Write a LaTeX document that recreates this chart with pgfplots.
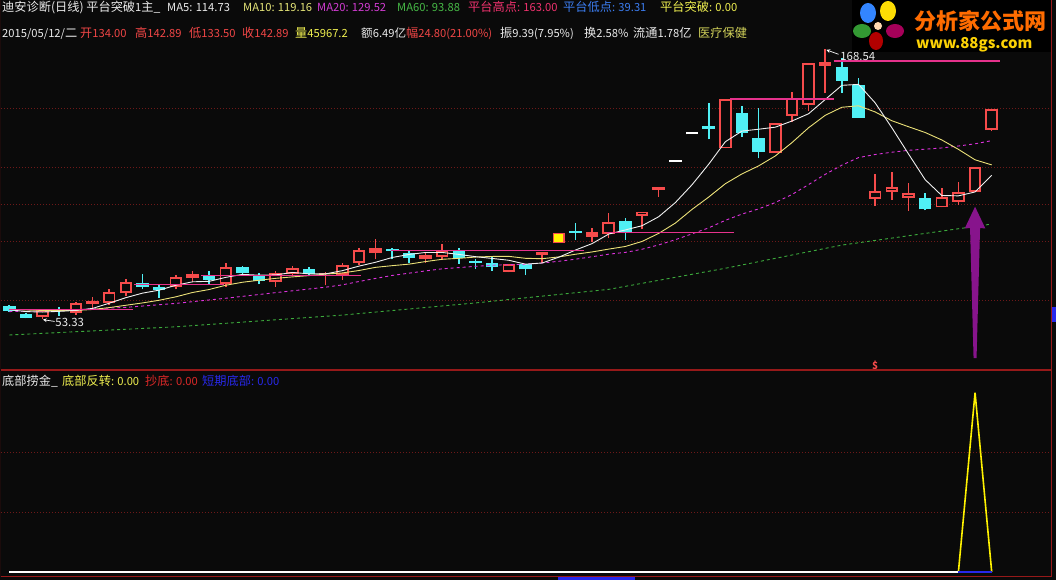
\documentclass[border=0pt]{standalone}
\usepackage{pgfplots}
\pgfplotsset{compat=1.18}
\usepackage{pgfplotstable}
\usepackage{fontspec}
\setmainfont{Noto Sans CJK SC}
\newfontfamily\cjk{Noto Sans CJK SC}
\definecolor{bg}{RGB}{10,10,10}
\definecolor{gridred}{RGB}{110,25,25}
\definecolor{border}{RGB}{150,25,25}
\definecolor{upred}{RGB}{245,75,75}
\definecolor{dncyan}{RGB}{80,240,245}
\definecolor{ma5}{RGB}{240,240,240}
\definecolor{ma10}{RGB}{235,225,120}
\definecolor{ma20}{RGB}{220,50,220}
\definecolor{ma60}{RGB}{60,170,60}
\definecolor{plat}{RGB}{230,50,140}
\definecolor{arrowp}{RGB}{135,20,140}
\definecolor{tw}{RGB}{235,235,235}
\definecolor{tma10}{RGB}{230,230,120}
\definecolor{tma20}{RGB}{210,60,210}
\definecolor{tma60}{RGB}{70,185,70}
\definecolor{tpink}{RGB}{240,50,110}
\definecolor{tblue}{RGB}{60,125,240}
\definecolor{tyel}{RGB}{240,240,80}
\definecolor{tred}{RGB}{240,70,70}
\definecolor{tind}{RGB}{210,210,90}
\definecolor{tdred}{RGB}{220,40,40}
\definecolor{tdblue}{RGB}{40,40,235}

\pgfplotstableread{
i o h l c
2 54.05 57.7 53.33 57.2
4 56.0 60.5 55.2 60.0
6 60.3 66.0 59.3 65.0
7 64.3 70.4 63.3 69.0
10 66.9 72.2 66.0 71.4
13 68.3 77.1 67.1 75.4
16 69.0 73.9 67.1 73.1
17 72.4 75.8 72.0 75.2
20 72.1 77.1 70.0 76.4
21 77.1 83.5 76.5 82.8
26 79.7 85.2 78.5 82.8
30 73.5 77.0 73.3 76.8
36 89.6 98.5 87.8 94.9
38 97.3 99.2 91.6 99.2
43 126.2 147.3 126.2 147.3
46 124.1 137.2 124.1 137.2
47 140.0 150.4 137.6 147.6
48 144.8 162.8 142.2 162.8
52 104.8 115.3 101.6 108.1
53 107.7 116.2 104.2 109.8
54 105.1 111.3 99.6 107.0
56 101.0 109.4 101.0 105.3
57 103.4 112.0 102.0 107.4
58 107.7 118.09 107.7 118.09
59 134.0 142.89 133.5 142.89
}\redhollow

\pgfplotstableread{
i o h l c
5 59.7 62.9 57.9 61.0
11 70.7 73.9 69.0 72.4
19 72.4 73.3 67.8 73.0
22 81.6 87.4 78.8 83.5
25 78.8 81.8 77.4 80.7
32 80.6 82.1 77.1 81.8
35 88.5 92.1 86.3 90.6
39 108.4 109.8 105.6 109.8
49 161.6 168.54 149.7 163.0
}\redfilled

\pgfplotstableread{
i o h l c
0 58.9 59.3 56.4 56.75
1 55.5 55.9 53.6 53.9
3 57.6 58.5 54.6 56.7
8 68.6 72.6 66.0 66.9
9 66.8 68.3 62.2 65.9
12 71.8 73.8 67.8 70.0
14 75.4 76.0 72.3 72.8
15 71.7 73.1 68.1 69.6
18 74.6 75.6 71.9 72.4
23 83.1 83.5 78.8 82.4
24 81.6 82.8 77.4 79.2
27 82.4 83.5 76.9 79.3
28 78.2 78.8 74.6 77.3
29 77.4 79.7 73.9 75.4
31 76.8 77.0 72.1 74.5
34 91.0 94.2 87.1 90.1
37 95.3 96.3 87.1 90.6
42 135.8 145.5 130.1 134.4
44 141.2 144.3 131.2 132.6
45 130.5 143.3 121.9 124.8
50 160.8 164.7 150.0 155.1
51 153.3 156.1 139.3 139.3
55 104.9 107.0 99.7 100.2
}\cyandown

\pgfplotstableread{
i o h l c
33 85.6 90.2 85.6 90.2
}\yellowc

\pgfplotstableread{
i o h l c
40 120.35 121.25 120.35 121.25
41 132.15 133.05 132.15 133.05
}\whitec

\pgfplotsset{
  eb/.style 2 args={draw=none, forget plot,
    error bars/.cd, y dir=plus, y explicit, error mark=none,
    error bar style={draw=#1, solid, line width=#2}},
}

\newcommand\hz{\fontsize{12.2}{14}\selectfont}
\newcommand\hl[1]{{\fontsize{11.2}{14}\selectfont #1}}

\begin{document}
\begin{tikzpicture}[x=1pt,y=1pt]
\useasboundingbox (0,0) rectangle (1056,580);
\fill[bg] (0,0) rectangle (1056,580);

\begin{axis}[at={(1pt,210pt)}, anchor=south west, scale only axis,
  width=1051pt, height=370pt,
  xmin=-0.5, xmax=62.62, ymin=31.55, ymax=189.6,
  axis line style={draw=none}, xtick=\empty,
  ytick={61.45,86.65,102.45,118.26,143.46}, yticklabels={},
  major tick length=0pt, ymajorgrids,
  major grid style={gridred, line width=0.8pt, dash pattern=on 1pt off 2pt}]

% wicks
\addplot[eb={upred}{1.5pt}] table[x=i, y=l, y error plus expr=\thisrow{h}-\thisrow{l}] {\redhollow};
\addplot[eb={upred}{1.5pt}] table[x=i, y=l, y error plus expr=\thisrow{h}-\thisrow{l}] {\redfilled};
\addplot[eb={dncyan}{1.7pt}] table[x=i, y=l, y error plus expr=\thisrow{h}-\thisrow{l}] {\cyandown};
% bodies
\addplot[eb={upred}{12.5pt}] table[x=i, y=o, y error plus expr=\thisrow{c}-\thisrow{o}] {\redhollow};
\addplot[eb={bg}{8.7pt}] table[x=i, y expr=\thisrow{o}+0.8, y error plus expr=\thisrow{c}-\thisrow{o}-1.6] {\redhollow};
\addplot[eb={upred}{12.5pt}] table[x=i, y=o, y error plus expr=\thisrow{c}-\thisrow{o}] {\redfilled};
\addplot[eb={dncyan}{12.5pt}] table[x=i, y=c, y error plus expr=\thisrow{o}-\thisrow{c}] {\cyandown};
\addplot[eb={upred}{12.5pt}] table[x=i, y=o, y error plus expr=\thisrow{c}-\thisrow{o}] {\yellowc};
\addplot[eb={yellow}{9.4pt}] table[x=i, y expr=\thisrow{o}+0.65, y error plus expr=\thisrow{c}-\thisrow{o}-1.3] {\yellowc};
\addplot[eb={white}{12.5pt}] table[x=i, y=o, y error plus expr=\thisrow{c}-\thisrow{o}] {\whitec};

% MA60
\addplot[ma60, line width=0.9pt, dash pattern=on 3pt off 3pt] coordinates {
(0,46.5)(10,50.0)(20,55.0)(28,60.2)(36,66.0)(43,75.0)(50,84.9)(59,93.88)};
% MA20
\addplot[ma20, line width=0.9pt, dash pattern=on 3pt off 3pt] coordinates {
(0,56.5)(3,57.0)(7,58.3)(10,60.0)(13,62.2)(16,64.6)(19,66.92)(20,67.91)(21,69.35)(22,70.67)(23,71.94)(24,72.9)(25,73.88)(26,74.77)(27,75.29)(28,75.83)(29,76.28)(30,76.55)(31,76.66)(32,77.25)(33,77.99)(34,78.88)(35,79.93)(36,81.02)(37,81.79)(38,83.13)(39,84.98)(40,87.2)(41,89.7)(42,92.25)(43,95.48)(44,98.15)(45,100.36)(46,103.08)(47,106.49)(48,110.74)(49,115.12)(50,119.04)(51,122.28)(52,123.59)(53,124.57)(54,125.39)(55,125.87)(56,126.39)(57,127.23)(58,128.17)(59,129.52)};
% MA10
\addplot[ma10, line width=0.9pt] coordinates {
(0,57.5)(1,57.2)(2,57.0)(3,56.9)(4,57.0)(5,57.4)(6,58.2)(7,59.2)(8,60.2)(9,61.34)(10,62.8)(11,64.65)(12,65.93)(13,67.75)(14,69.03)(15,69.89)(16,70.7)(17,71.32)(18,71.87)(19,72.51)(20,73.01)(21,74.05)(22,75.4)(23,76.12)(24,76.76)(25,77.87)(26,78.84)(27,79.25)(28,79.79)(29,80.05)(30,80.09)(31,79.26)(32,79.09)(33,79.85)(34,80.99)(35,81.98)(36,83.19)(37,84.32)(38,86.46)(39,89.9)(40,94.3)(41,100.14)(42,105.4)(43,111.11)(44,115.31)(45,118.73)(46,122.96)(47,128.66)(48,135.02)(49,140.34)(50,143.77)(51,144.41)(52,141.78)(53,138.03)(54,135.47)(55,133.01)(56,129.82)(57,125.8)(58,121.33)(59,119.16)};
% MA5
\addplot[ma5, line width=0.9pt] coordinates {
(0,57.3)(1,56.5)(2,56.3)(3,56.6)(4,57.01)(5,57.86)(6,60.08)(7,62.44)(8,64.38)(9,65.66)(10,67.74)(11,69.22)(12,69.42)(13,71.12)(14,72.4)(15,72.04)(16,72.18)(17,73.22)(18,72.62)(19,72.62)(20,73.98)(21,75.92)(22,77.58)(23,79.62)(24,80.9)(25,81.76)(26,81.76)(27,80.92)(28,79.96)(29,79.2)(30,78.42)(31,76.76)(32,77.26)(33,79.74)(34,82.78)(35,85.54)(36,89.62)(37,91.38)(38,93.18)(39,97.02)(40,103.06)(41,110.66)(42,119.42)(43,129.04)(44,133.6)(45,134.4)(46,135.26)(47,137.9)(48,141.0)(49,147.08)(50,153.14)(51,153.56)(52,145.66)(53,135.06)(54,123.86)(55,112.88)(56,106.08)(57,105.94)(58,107.6)(59,114.73)};

% platform lines
\addplot[plat, line width=1.2pt] coordinates {(0,57.47)(7.4,57.47)};
\addplot[plat, line width=1.2pt] coordinates {(7.5,68.2)(12.9,68.2)};
\addplot[plat, line width=1.2pt] coordinates {(11.5,71.8)(21.1,71.8)};
\addplot[plat, line width=1.2pt] coordinates {(22.9,82.5)(34.5,82.5)};
\addplot[plat, line width=1.2pt] coordinates {(35.9,90.37)(43.5,90.37)};
\addplot[plat, line width=1.2pt] coordinates {(43.3,147.3)(49.5,147.3)};
\addplot[plat, line width=1.2pt] coordinates {(49.5,163.5)(59.5,163.5)};

% purple arrow signal
\addplot[fill=arrowp, draw=none] coordinates {
(58.0,101.3)(58.62,92.0)(58.3,92.2)(58.09,36.67)(57.91,36.67)(57.7,92.2)(57.38,92.0)} -- cycle;

% ex-rights mark
\node[text=upred, inner sep=0pt, font=\fontsize{10}{10}\selectfont\bfseries] at (axis cs:52,33.3) {\$};

% extreme labels
\draw[white, line width=0.7pt, ->, >=stealth] (axis cs:2.72,52.3) -- (axis cs:2.02,53.05);
\node[anchor=west, inner sep=0pt, text=tw, font=\fontsize{11.4}{11}\selectfont] at (axis cs:2.76,52.05) {53.33};
\draw[white, line width=0.7pt, ->, >=stealth] (axis cs:49.8,166.4) -- (axis cs:49.07,168.3);
\node[anchor=west, inner sep=0pt, text=tw, font=\fontsize{11.4}{11}\selectfont] at (axis cs:49.9,165.7) {168.54};

\draw[border, line width=1pt] (rel axis cs:0,0) -- (rel axis cs:0,1);
\draw[border, line width=1pt] (rel axis cs:1,0) -- (rel axis cs:1,1);
\draw[border, line width=1pt] (rel axis cs:0,0) -- (rel axis cs:1,0);
\end{axis}

\begin{axis}[at={(1pt,3pt)}, anchor=south west, scale only axis,
  width=1051pt, height=206pt,
  xmin=-0.5, xmax=62.62, ymin=-0.0837, ymax=3.363,
  axis line style={draw=none}, xtick=\empty,
  ytick={1,2}, yticklabels={}, major tick length=0pt, ymajorgrids,
  major grid style={gridred, line width=0.8pt, dash pattern=on 1pt off 2pt}]
\addplot[yellow, line width=1.6pt] coordinates {(57,0)(58,3)(59,0)};
\addplot[tdblue, line width=1.4pt] coordinates {(0,0)(59,0)};
\addplot[white, line width=1.4pt] coordinates {(0,0)(57,0)};
\draw[border, line width=1pt] (rel axis cs:0,0) -- (rel axis cs:0,1);
\draw[border, line width=1pt] (rel axis cs:1,0) -- (rel axis cs:1,1);
\draw[border, line width=1pt] (rel axis cs:0,1) -- (rel axis cs:1,1);
\draw[border, line width=1pt] (rel axis cs:0,0) -- (rel axis cs:1,0);
\end{axis}

% bottom scroll bar and right marker
\fill[tdblue] (558,0) rectangle (635,2.5);
\fill[tdblue] (1052,258) rectangle (1056,273);

\begin{scope}[every node/.style={anchor=base west, inner sep=0pt}]
% header line 1
\node[text=tw] at (2,568.5) {\hz 迪安诊断(日线) 平台突破\hl{1}主\_};
\node[text=tw] at (167,568.5) {\hl{MA5: 114.73}};
\node[text=tma10] at (243,568.5) {\hl{MA10: 119.16}};
\node[text=tma20] at (317,568.5) {\hl{MA20: 129.52}};
\node[text=tma60] at (397,568.5) {\hl{MA60: 93.88}};
\node[text=tpink] at (468,568.5) {\hz 平台高点\hl{: 163.00}};
\node[text=tblue] at (563,568.5) {\hz 平台低点\hl{: 39.31}};
\node[text=tyel] at (660,568.5) {\hz 平台突破\hl{: 0.00}};
% header line 2
\node[text=tw] at (2,542) {\hl{2015/05/12/}\hz 二};
\node[text=tred] at (80,542) {\hz 开\hl{134.00}};
\node[text=tred] at (135,542) {\hz 高\hl{142.89}};
\node[text=tred] at (189,542) {\hz 低\hl{133.50}};
\node[text=tred] at (242,542) {\hz 收\hl{142.89}};
\node[text=tyel] at (295,542) {\hz 量\hl{45967.2}};
\node[text=tw] at (361,542) {\fontsize{11.6}{14}\selectfont 额\hl{6.49}亿};
\node[text=tred] at (406,542) {\hz 幅\hl{24.80(21.00\%)}};
\node[text=tw] at (500,542) {\hz 振\hl{9.39(7.95\%)}};
\node[text=tw] at (584,542) {\hz 换\hl{2.58\%}};
\node[text=tw] at (633,542) {\hz 流通\hl{1.78}亿};
\node[text=tind] at (698,542) {\hz 医疗保健};
% lower panel header
\node[text=tw] at (2,194.5) {\hz 底部捞金\_};
\node[text=tyel] at (62,194.5) {\hz 底部反转\hl{: 0.00}};
\node[text=tdred] at (145,194.5) {\hz 抄底\hl{: 0.00}};
\node[text=tdblue] at (202,194.5) {\hz 短期底部\hl{: 0.00}};
\end{scope}

% logo watermark
\fill[black] (852,528) rectangle (1051,580);
\fill[blue!60!cyan!80!white] (868,567) ellipse (8 and 10);
\fill[yellow!80!orange] (888,569) ellipse (8 and 10);
\fill[green!50!black!80!white] (862,549) ellipse (9 and 7);
\fill[red!70!black] (876,539) ellipse (7 and 9);
\fill[violet!70!red] (895,549) ellipse (9 and 7);
\fill[white!70!orange] (878,554) circle (4);
\node[anchor=west, inner sep=0pt, text=orange!85!red, font=\cjk\bfseries\fontsize{22}{22}\selectfont] at (914,559) {分析家公式网};
\node[anchor=west, inner sep=0pt, text=yellow!70!orange, font=\bfseries\itshape\fontsize{15}{15}\selectfont] at (916,535) {www.88gs.com};
\end{tikzpicture}
\end{document}
